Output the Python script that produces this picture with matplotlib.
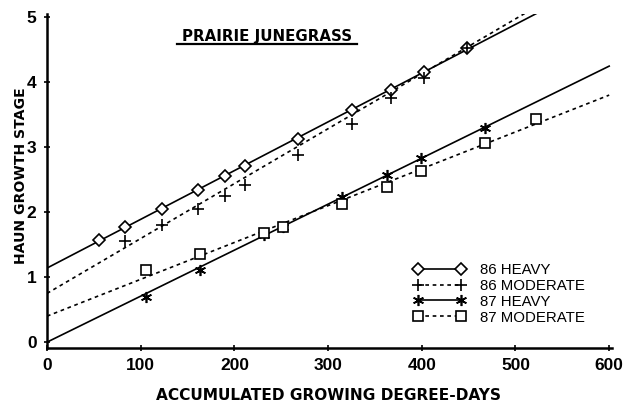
import numpy as np
import matplotlib
matplotlib.use("Agg")
import matplotlib.pyplot as plt
from matplotlib.lines import Line2D

# ---- data ----
gdd_86h = [56, 83, 123, 161, 190, 211, 268, 326, 367, 402, 448]
stage_86h = [1.57, 1.77, 2.05, 2.34, 2.56, 2.71, 3.13, 3.58, 3.88, 4.16, 4.52]
gdd_86m = [83, 123, 161, 190, 211, 268, 326, 367, 402, 448]
stage_86m = [1.55, 1.81, 2.05, 2.25, 2.42, 2.88, 3.36, 3.75, 4.06, 4.52]
gdd_87h = [106, 163, 232, 252, 315, 363, 399, 467]
stage_87h = [0.70, 1.11, 1.65, 1.77, 2.24, 2.57, 2.83, 3.29]
gdd_87m = [106, 163, 232, 252, 315, 363, 399, 467, 522]
stage_87m = [1.11, 1.35, 1.68, 1.77, 2.12, 2.39, 2.64, 3.07, 3.44]

# regression lines (intercept, slope)
fit_intercepts = [1.14, 0.75, 0.0, 0.40]
fit_slopes = [0.0075, 0.00845, 0.00708, 0.00567]
labels = ["86 HEAVY", "86 MODERATE", "87 HEAVY", "87 MODERATE"]

xticks = [0, 100, 200, 300, 400, 500, 600]
yticks = [0, 1, 2, 3, 4, 5]

fig = plt.figure(figsize=(6.31, 4.04), dpi=100)
ax = fig.add_axes([47/631, 1-348/404, (612-47)/631, (348-14)/404])

asterisk = (6, 2, 0)
dotted = (0, (2.2, 2.2))
styles = [
    dict(marker="D", ms=6.3, ls="-", mfc="white"),
    dict(marker="+", ms=8, ls=dotted, mfc="white"),
    dict(marker=asterisk, ms=8, ls="-", mfc="white"),
    dict(marker="s", ms=7.5, ls=dotted, mfc="white"),
]
series = [(gdd_86h, stage_86h), (gdd_86m, stage_86m), (gdd_87h, stage_87h), (gdd_87m, stage_87m)]

xl = np.array([0, 600])
handles = []
for (gx, gy), a, b, st, lab in zip(series, fit_intercepts, fit_slopes, styles, labels):
    ax.plot(xl, a + b * xl, color="black", lw=1.2, ls=st["ls"], zorder=2)
    ax.plot(gx, gy, ls="none", marker=st["marker"], ms=st["ms"], mfc=st["mfc"],
            mec="black", mew=1.2, zorder=3)
    handles.append(Line2D([], [], color="black", lw=1.2, ls=st["ls"], marker=st["marker"],
                          ms=st["ms"], mfc="white", mec="black", mew=1.2))

ax.set_xlim(0, 603)
ax.set_ylim(-0.09, 5.05)
ax.set_xticks(xticks)
ax.set_yticks(yticks)
for s in ["top", "right"]:
    ax.spines[s].set_visible(False)
for s in ["left", "bottom"]:
    ax.spines[s].set_linewidth(1.8)
ax.tick_params(direction="inout", length=5, width=1.2, pad=5)
for t in ax.get_xticklabels() + ax.get_yticklabels():
    t.set_fontfamily("Liberation Sans")
    t.set_fontweight("bold")
    t.set_fontsize(12.5)

leg = ax.legend(handles, labels, loc="upper left", bbox_to_anchor=(0.648, 0.255),
                frameon=False, numpoints=2, handlelength=3.5, handletextpad=0.95,
                labelspacing=0.13, borderpad=0, borderaxespad=0,
                prop=dict(family="Liberation Sans", size=10.8))

ax.text(0.389, 0.932, "PRAIRIE JUNEGRASS", transform=ax.transAxes, ha="center", va="center",
        fontfamily="DejaVu Sans", fontweight="bold", fontsize=10.8)
ax.plot([0.230, 0.549], [0.910, 0.910], transform=ax.transAxes, color="black", lw=1.6,
        clip_on=False)

fig.text(21/631, 1-176/404, "HAUN GROWTH STAGE", rotation=90, ha="center", va="center",
         fontfamily="DejaVu Sans", fontweight="bold", fontsize=10.1)
fig.text(328/631, 1-395/404, "ACCUMULATED GROWING DEGREE-DAYS", ha="center", va="center",
         fontfamily="DejaVu Sans", fontweight="bold", fontsize=11.1)

fig.savefig("out.png", dpi=100)
